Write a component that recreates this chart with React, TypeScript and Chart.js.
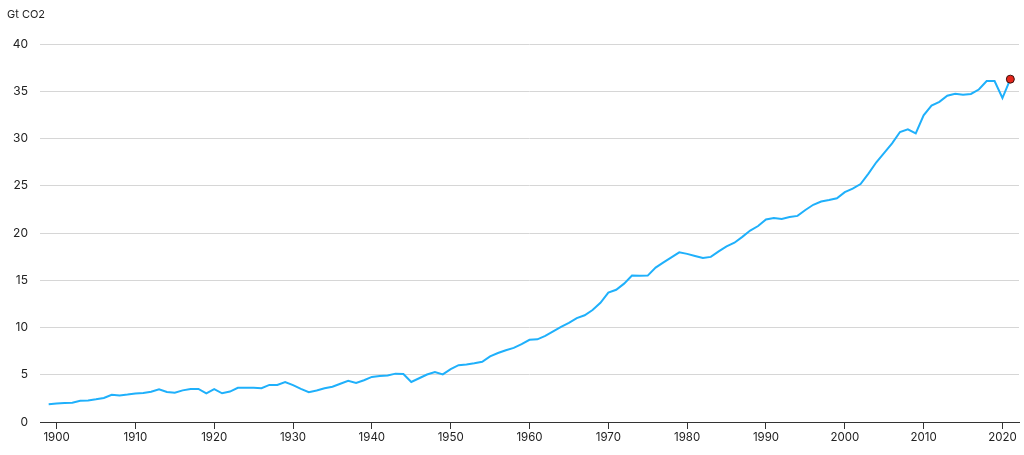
import React, { useEffect, useRef } from "react";
import { Chart, registerables } from "chart.js";

Chart.register(...registerables);

const years: number[] = [];
for (let y = 1899; y <= 2021; y++) years.push(y);

const emissions: number[] = [
  1.88, 1.95, 2.0, 2.05, 2.25, 2.28, 2.4, 2.55, 2.88, 2.8, 2.9,
  3.02, 3.08, 3.2, 3.47, 3.18, 3.1, 3.35, 3.5, 3.5, 3.02,
  3.47, 3.04, 3.22, 3.62, 3.63, 3.62, 3.58, 3.93, 3.93, 4.24,
  3.9, 3.5, 3.15, 3.33, 3.58, 3.74, 4.05, 4.36, 4.14, 4.42,
  4.77, 4.87, 4.92, 5.12, 5.08, 4.24, 4.63, 5.03, 5.3, 5.04,
  5.6, 6.02, 6.1, 6.22, 6.37, 6.95, 7.3, 7.6, 7.85, 8.24,
  8.7, 8.75, 9.12, 9.6, 10.08, 10.5, 11.0, 11.3, 11.85, 12.62,
  13.7, 14.0, 14.65, 15.5, 15.48, 15.5, 16.35, 16.9, 17.43, 17.96,
  17.8, 17.58, 17.37, 17.48, 18.07, 18.6, 18.98, 19.6, 20.27, 20.75,
  21.45, 21.6, 21.5, 21.7, 21.82, 22.45, 23.0, 23.35, 23.5, 23.68,
  24.33, 24.7, 25.2, 26.3, 27.5, 28.5, 29.5, 30.7, 30.98, 30.55,
  32.47, 33.5, 33.9, 34.55, 34.75, 34.65, 34.73, 35.2, 36.1, 36.1,
  34.3, 36.3,
];

const xTickYears: number[] = [1900, 1910, 1920, 1930, 1940, 1950, 1960, 1970, 1980, 1990, 2000, 2010, 2020];
const yTicks: number[] = [0, 5, 10, 15, 20, 25, 30, 35, 40];
const unitLabel = "Gt CO2";

export default function App() {
  const ref = useRef<HTMLCanvasElement | null>(null);

  useEffect(() => {
    if (!ref.current) return;
    const last = emissions.length - 1;
    const chart = new Chart(ref.current, {
      type: "line",
      data: {
        datasets: [
          {
            data: years.map((y, i) => ({ x: y, y: emissions[i] })),
            borderColor: "#1fb0fb",
            borderWidth: 2,
            tension: 0,
            fill: false,
            pointRadius: (ctx: any) => (ctx.dataIndex === last ? 4 : 0),
            pointHoverRadius: 0,
            pointBackgroundColor: "#e5261b",
            pointBorderColor: "#3a1410",
            pointBorderWidth: 1,
          },
        ],
      },
      options: {
        animation: false,
        responsive: true,
        maintainAspectRatio: false,
        layout: { padding: { left: 7, right: 4, top: 0, bottom: 0 } },
        plugins: {
          legend: { display: false },
          tooltip: { enabled: false },
          title: {
            display: true,
            text: unitLabel,
            align: "start",
            color: "#222",
            font: { family: "Inter", size: 11, weight: "normal" },
            padding: { top: 8, bottom: 23 },
          },
        },
        scales: {
          x: {
            type: "linear",
            min: 1897.9,
            max: 2022.1,
            afterBuildTicks: (scale: any) => {
              scale.ticks = xTickYears.map((v) => ({ value: v }));
            },
            afterFit: (scale: any) => {
              scale.height = 33;
            },
            grid: {
              display: true,
              drawOnChartArea: false,
              drawTicks: true,
              tickLength: 7,
              color: "#333",
            },
            border: { display: true, color: "#333", width: 1 },
            ticks: {
              autoSkip: false,
              maxRotation: 0,
              padding: 2,
              color: "#222",
              font: { family: "Inter", size: 11.5 },
              callback: (v: any) => String(v),
            },
          },
          y: {
            min: 0,
            max: 40,
            afterBuildTicks: (scale: any) => {
              scale.ticks = yTicks.map((v) => ({ value: v }));
            },
            afterFit: (scale: any) => {
              scale.width = 33;
            },
            grid: { color: "#d6d6d6", drawTicks: false, lineWidth: 1 },
            border: { display: false },
            ticks: {
              padding: 12,
              color: "#222",
              font: { family: "Inter", size: 12 },
              callback: (v: any) => String(v),
            },
          },
        },
      },
    } as any);
    return () => chart.destroy();
  }, []);

  return (
    <div style={{ position: "fixed", left: 0, top: 0, width: 1024, height: 455, background: "#fff" }}>
      <canvas ref={ref} />
    </div>
  );
}
